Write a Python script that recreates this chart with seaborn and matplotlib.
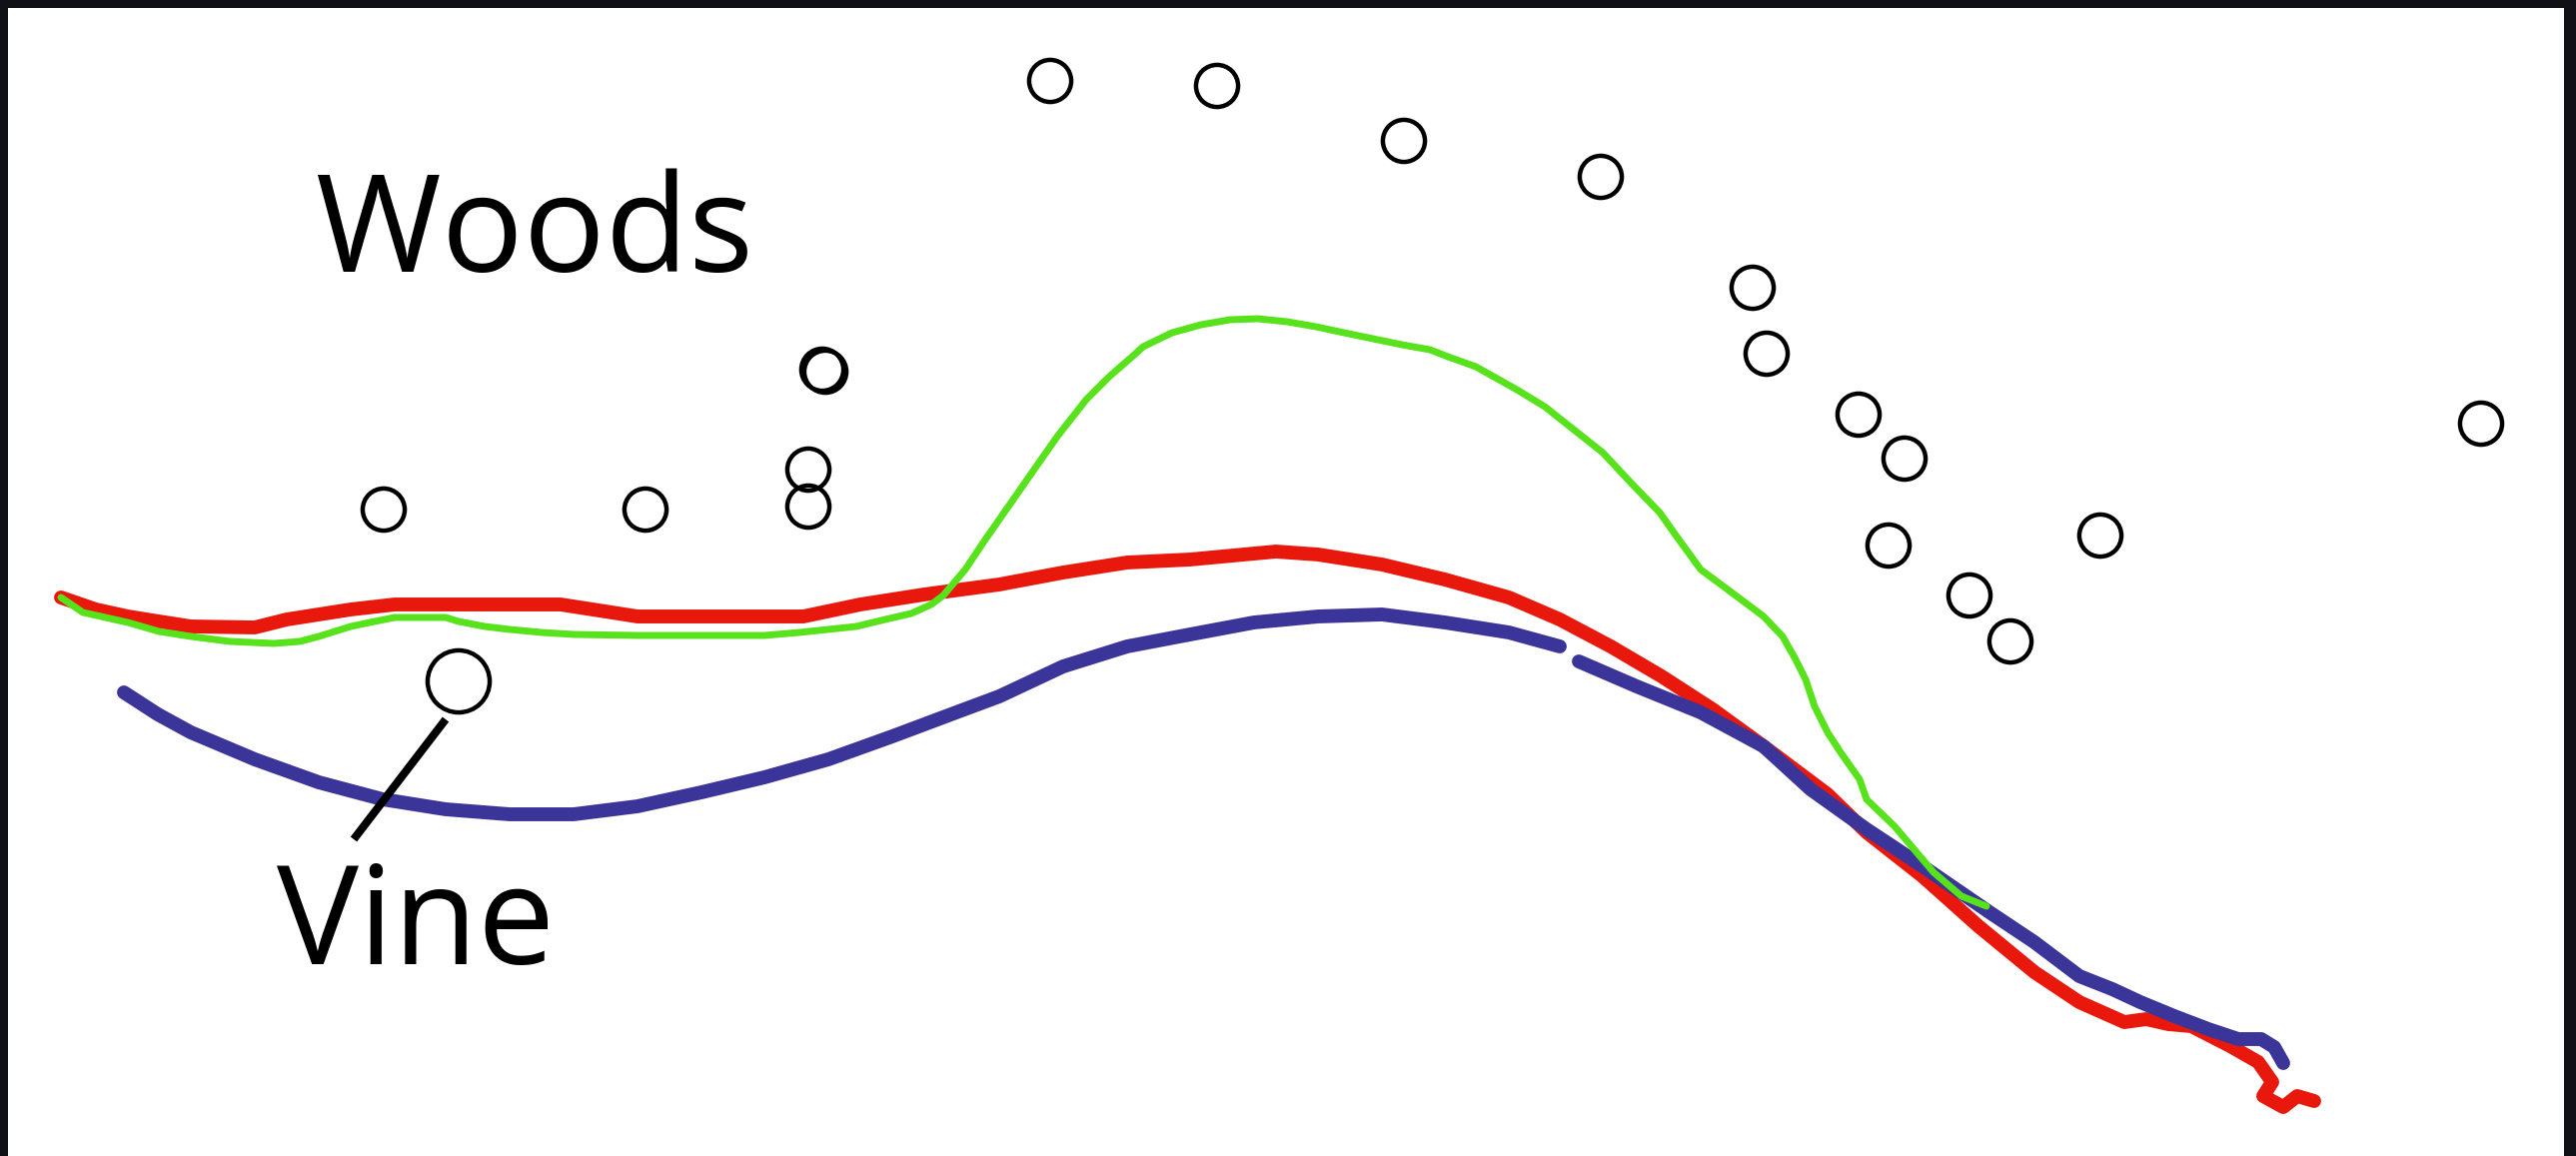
import numpy as np
import pandas as pd
import matplotlib
matplotlib.use("Agg")
import matplotlib.pyplot as plt
import seaborn as sns

sns.set_style("white")
plt.rcParams["font.family"] = ["Open Sans", "DejaVu Sans"]

# ---- series traces (x, y in plot units; y grows downward) ----
red_x = [61, 96, 128, 159, 191, 255, 287, 351, 395, 478, 561, 606, 638, 702, 804, 861, 925,
         1000, 1064, 1128, 1191, 1277, 1319, 1383, 1446, 1510, 1561, 1612, 1663,
         1714, 1765, 1829, 1868, 1924, 1980, 2036, 2081, 2126, 2148, 2170, 2193,
         2232, 2260, 2274, 2265, 2285, 2299, 2316]
red_y = [598, 610, 617, 622, 627, 628, 620, 610, 605, 605, 605, 612, 617, 617, 617, 605, 595,
         585, 573, 563, 560, 552, 555, 565, 580, 598, 620, 647, 677,
         710, 747, 795, 833, 877, 927, 973, 1003, 1023, 1020, 1025, 1027,
         1047, 1063, 1083, 1097, 1108, 1097, 1102]

blue_x = [124, 158, 191, 255, 319, 383, 446, 510, 574, 638, 702, 765, 829, 893, 957,
          1000, 1064, 1128, 1191, 1255, 1319, 1383, 1446, 1510, 1561, np.nan,
          1580, 1638, 1702, 1765, 1812, 1868, 1924, 1991, 2036, 2081, 2114, 2142,
          2176, 2210, 2240, 2263, 2276, 2285]
blue_y = [693, 715, 733, 760, 783, 800, 810, 815, 815, 807, 793, 778, 760, 737, 713,
          697, 667, 647, 635, 623, 617, 615, 623, 633, 647, np.nan,
          662, 687, 713, 747, 790, 830, 867, 913, 943, 977, 990, 1003,
          1017, 1030, 1040, 1040, 1048, 1064]

green_x = [61, 83, 128, 159, 191, 230, 274, 300, 319, 351, 370, 395, 415, 446, 459,
           485, 510, 542, 574, 638, 702, 765, 800, 857, 886, 912, 932, 944, 966,
           984, 1007, 1030, 1058, 1087, 1110, 1133, 1144, 1173, 1202, 1231, 1259,
           1288, 1317, 1345, 1374, 1403, 1431, 1449, 1477, 1518, 1546, 1575, 1604,
           1632, 1661, 1678, 1702, 1733, 1765, 1784, 1797, 1807, 1816, 1829, 1842,
           1861, 1868, 1896, 1935, 1963, 1988]
green_y = [598, 613, 623, 632, 637, 642, 644, 642, 637, 627, 623, 618, 618, 618, 622,
           627, 630, 633, 635, 636, 636, 636, 633, 627, 620, 614, 605, 596, 570,
           543, 510, 477, 437, 400, 377, 357, 347, 333, 325, 320, 319,
           322, 327, 333, 339, 345, 350, 357, 367, 390, 407, 430, 453,
           483, 513, 537, 570, 593, 617, 637, 660, 680, 707, 733, 753,
           780, 800, 827, 873, 897, 907]

# ---- open-circle observations ----
woods_x = [1051, 1218, 1405, 1602, 1754, 1768, 1860, 1906, 1890, 1971, 2012, 2102,
           2483, 384, 646, 809, 809, 823, 826]
woods_y = [81, 86, 141, 177, 288, 354, 415, 459, 546, 596, 642, 536,
           424, 510, 510, 470, 507, 370, 372]

vine_x = [459]
vine_y = [682]

W, H = 2578, 1157
fig = plt.figure(figsize=(W / 100, H / 100), dpi=100, facecolor="#0f1116")
ax = fig.add_axes([8 / W, 0, (2566 - 8) / W, (H - 8) / H])
ax.set_facecolor("white")
ax.set_xlim(8, 2566)
ax.set_ylim(H, 8)
ax.set_xticks([])
ax.set_yticks([])
for sp in ax.spines.values():
    sp.set_visible(False)

lines = [
    (red_x, red_y, "#e8180c", 10),
    (blue_x, blue_y, "#3b359a", 10),
    (green_x, green_y, "#58e21c", 5.0),
]
for xs, ys, col, lw in lines:
    ax.plot(xs, ys, color=col, lw=lw, solid_capstyle="round",
            solid_joinstyle="round", zorder=2)

sns.scatterplot(x=woods_x, y=woods_y, ax=ax, s=920, marker="o",
                facecolors="none", edgecolors="black", linewidth=3.2, zorder=3)
sns.scatterplot(x=vine_x, y=vine_y, ax=ax, s=2000, marker="o",
                facecolors="none", edgecolors="black", linewidth=3.2, zorder=3)

# pointer from the label to its circle
ax.plot([446, 354], [720, 840], color="black", lw=5.8, solid_capstyle="butt", zorder=3)

ax.text(316, 272, "Woods", fontsize=98, color="black", ha="left", va="baseline")
ax.text(277, 965, "Vine", fontsize=99, color="black", ha="left", va="baseline")

fig.savefig("out.png", dpi=100, facecolor=fig.get_facecolor())
